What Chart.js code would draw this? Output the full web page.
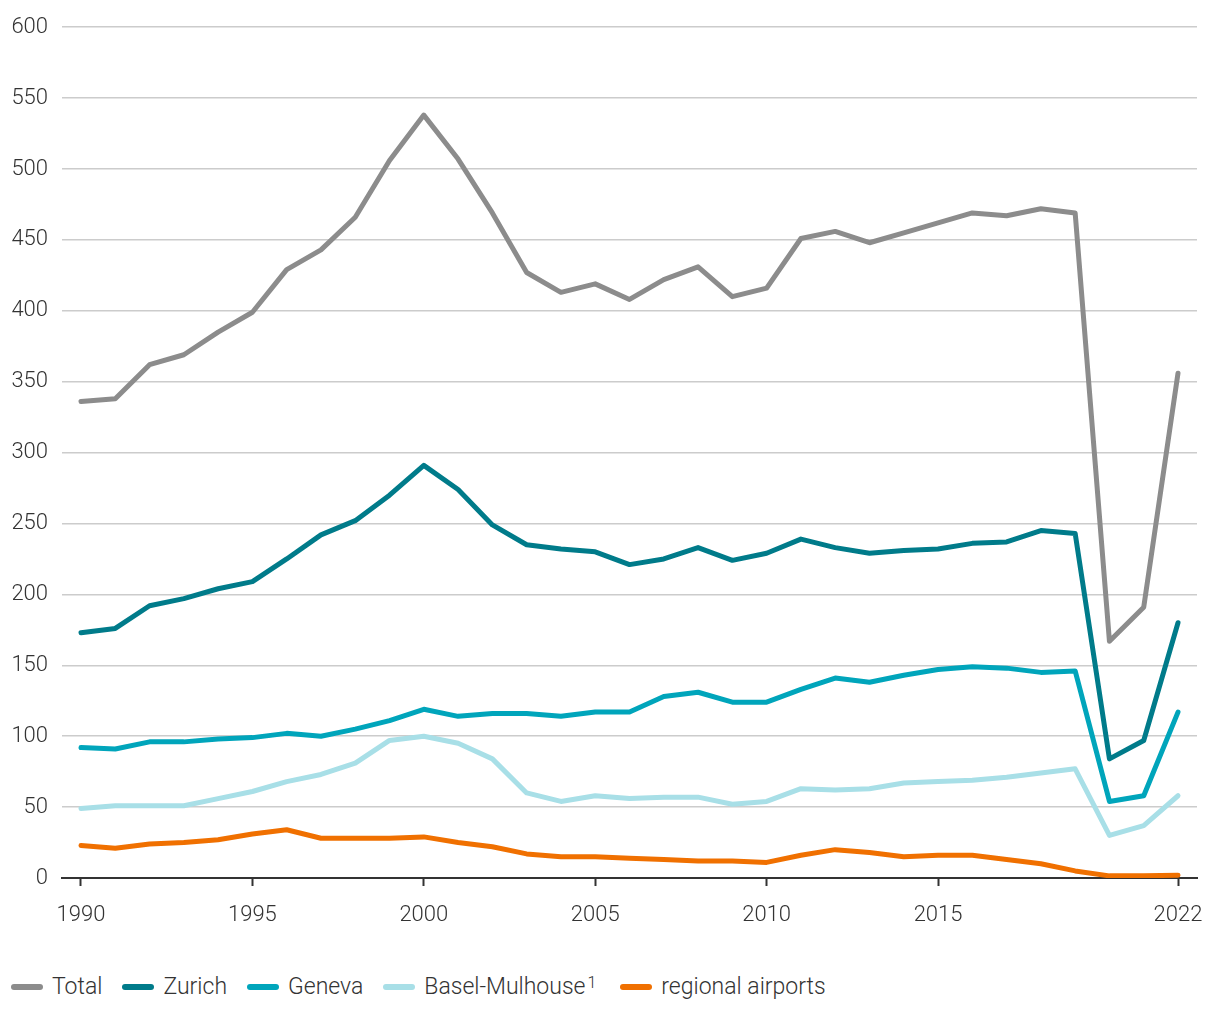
<!DOCTYPE html>
<html>
<head>
<meta charset="utf-8">
<script src="https://cdn.jsdelivr.net/npm/chart.js@4/dist/chart.umd.min.js"></script>
<style>
  body { margin: 0; background: #fff; font-family: Roboto, sans-serif; }
  .wrap { position: relative; width: 1220px; height: 1020px; }
  #chart { position: absolute; left: 0; top: 0; }
  .legend { position: absolute; left: 11px; top: 973px; display: flex; align-items: center;
    font-size: 23px; font-weight: 300; color: #333; }
  .legend span.item { display: flex; align-items: center; margin-right: 20px; }
  .legend i { display: inline-block; width: 32px; height: 6px; border-radius: 3px; margin-right: 9px; }
  .legend sup { font-size: 16px; position: relative; top: -4px; margin-left: 2px; margin-right: 4px; }
</style>
</head>
<body>
<div class="wrap">
  <canvas id="chart" width="1220" height="940"></canvas>
  <div class="legend" id="legend"></div>
</div>
<script>
const years = [1990, 1991, 1992, 1993, 1994, 1995, 1996, 1997, 1998, 1999, 2000, 2001, 2002, 2003, 2004, 2005,
  2006, 2007, 2008, 2009, 2010, 2011, 2012, 2013, 2014, 2015, 2016, 2017, 2018, 2019, 2020, 2021, 2022];
const total = [336, 338, 362, 369, 385, 399, 429, 443, 466, 506, 538, 507, 469, 427, 413, 419,
  408, 422, 431, 410, 416, 451, 456, 448, 455, 462, 469, 467, 472, 469, 167, 191, 356];
const zurich = [173, 176, 192, 197, 204, 209, 225, 242, 252, 270, 291, 274, 249, 235, 232, 230,
  221, 225, 233, 224, 229, 239, 233, 229, 231, 232, 236, 237, 245, 243, 84, 97, 180];
const geneva = [92, 91, 96, 96, 98, 99, 102, 100, 105, 111, 119, 114, 116, 116, 114, 117,
  117, 128, 131, 124, 124, 133, 141, 138, 143, 147, 149, 148, 145, 146, 54, 58, 117];
const basel = [49, 51, 51, 51, 56, 61, 68, 73, 81, 97, 100, 95, 84, 60, 54, 58,
  56, 57, 57, 52, 54, 63, 62, 63, 67, 68, 69, 71, 74, 77, 30, 37, 58];
const regional = [23, 21, 24, 25, 27, 31, 34, 28, 28, 28, 29, 25, 22, 17, 15, 15,
  14, 13, 12, 12, 11, 16, 20, 18, 15, 16, 16, 13, 10, 5, 1.5, 1.5, 2];
const xTicks = [1990, 1995, 2000, 2005, 2010, 2015, 2022];

const series = [
  { label: 'Total', sup: '', data: total, color: '#8c8c8c' },
  { label: 'Zurich', sup: '', data: zurich, color: '#007b8a' },
  { label: 'Geneva', sup: '', data: geneva, color: '#00a5bb' },
  { label: 'Basel-Mulhouse', sup: '1', data: basel, color: '#a8dfe7' },
  { label: 'regional airports', sup: '', data: regional, color: '#f07000' }
];

// legend
const legend = document.getElementById('legend');
series.forEach(function (s) {
  const item = document.createElement('span');
  item.className = 'item';
  item.innerHTML = '<i style="background:' + s.color + '"></i>' + s.label + (s.sup ? '<sup>' + s.sup + '</sup>' : '');
  legend.appendChild(item);
});

const font = { family: 'Roboto', size: 22, weight: '300' };

new Chart(document.getElementById('chart'), {
  type: 'line',
  data: {
    datasets: series.slice().reverse().map(function (s) {
      return {
        label: s.label,
        data: years.map(function (y, i) { return { x: y, y: s.data[i] }; }),
        borderColor: s.color,
        backgroundColor: s.color,
        borderWidth: 5,
        pointRadius: 0,
        borderJoinStyle: 'round',
        borderCapStyle: 'round',
        tension: 0
      };
    })
  },
  options: {
    responsive: false,
    animation: false,
    layout: { padding: { top: 22, right: 23, left: 0, bottom: 0 } },
    plugins: { legend: { display: false }, tooltip: { enabled: false } },
    scales: {
      x: {
        type: 'linear',
        min: 1989.446,
        max: 2022.554,
        afterBuildTicks: function (scale) {
          scale.ticks = xTicks.map(function (v) { return { value: v }; });
        },
        afterFit: function (scale) { scale.height = 62; },
        grid: { drawOnChartArea: false, drawTicks: true, tickLength: 8, tickColor: '#333', tickWidth: 2 },
        border: { display: true, color: '#333', width: 2 },
        ticks: {
          font: font, color: '#333', padding: 16, maxRotation: 0, autoSkip: false,
          callback: function (v) { return String(v); }
        }
      },
      y: {
        min: 0,
        max: 600,
        afterFit: function (scale) { scale.width = 62; },
        grid: { color: '#cccccc', lineWidth: 1.5, drawTicks: false },
        border: { display: false },
        ticks: { stepSize: 50, font: font, color: '#333', padding: 14 }
      }
    }
  }
});
</script>
</body>
</html>
